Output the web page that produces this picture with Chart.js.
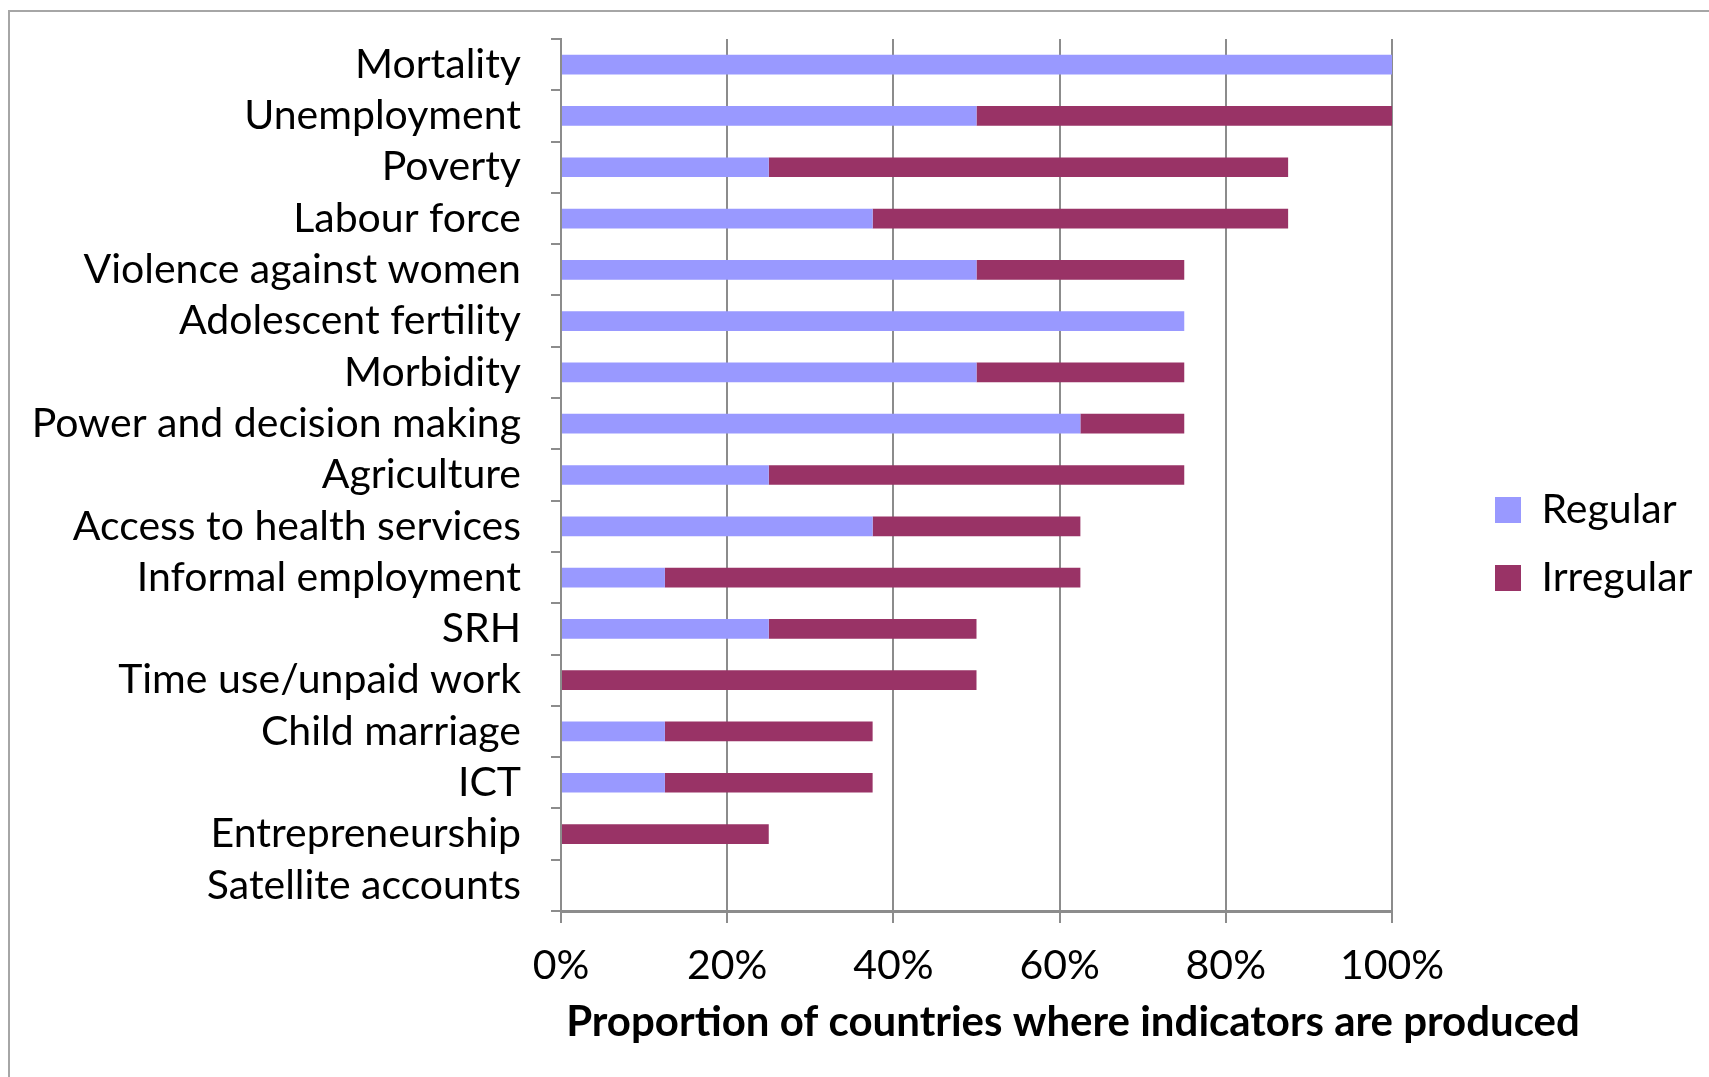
<!DOCTYPE html>
<html lang="en">
<head>
  <meta charset="UTF-8" />
  <title>Indicators produced</title>
  <script src="https://cdn.jsdelivr.net/npm/chart.js"></script>
  <style>
    html, body { margin: 0; padding: 0; background: #fff; }
    #wrap { position: relative; width: 1709px; height: 1077px; overflow: hidden; }
    #frame { position: absolute; left: 8px; top: 10px; width: 1800px; height: 1200px; border: 2px solid #a6a6a6; box-sizing: border-box; }
    canvas { position: absolute; left: 0; top: 0; }
  </style>
</head>
<body>

<div id="wrap">
  <div id="frame"></div>
  <canvas id="grafIndicadores" width="1709" height="1077"></canvas>
</div>

<script>
  const categorias = [
    'Mortality', 'Unemployment', 'Poverty', 'Labour force', 'Violence against women',
    'Adolescent fertility', 'Morbidity', 'Power and decision making', 'Agriculture',
    'Access to health services', 'Informal employment', 'SRH', 'Time use/unpaid work',
    'Child marriage', 'ICT', 'Entrepreneurship', 'Satellite accounts'
  ];
  const regular   = [100, 50, 25, 37.5, 50, 75, 50, 62.5, 25, 37.5, 12.5, 25, 0, 12.5, 12.5, 0, 0];
  const irregular = [0, 50, 62.5, 50, 25, 0, 25, 12.5, 50, 25, 50, 25, 50, 25, 25, 25, 0];
  const xTicks = [0, 20, 40, 60, 80, 100];
  const tituloX = 'Proportion of countries where indicators are produced';

  const fonte = 'Lato, "Open Sans", sans-serif';
  const cinza = '#8c8c8c';

  // legenda mais larga, deslocada para a direita (como no Excel)
  const ajusteLegenda = {
    id: 'ajusteLegenda',
    beforeInit(chart) {
      const fitOrig = chart.legend.fit;
      chart.legend.fit = function () {
        fitOrig.call(this);
        this.width = 317;
      };
    },
    afterLayout(chart) {
      const lg = chart.legend;
      lg.left += 76; lg.right += 76;
      lg.top -= 14; lg.bottom -= 14;
    }
  };

  // título do eixo X, centrado como no original
  const tituloEixo = {
    id: 'tituloEixo',
    afterDraw(chart) {
      const ctx = chart.ctx;
      const area = chart.chartArea;
      ctx.save();
      ctx.font = 'bold 42px ' + fonte;
      ctx.fillStyle = '#000';
      ctx.textAlign = 'center';
      ctx.textBaseline = 'middle';
      ctx.fillText(tituloX, area.left + 512, area.bottom + 111);
      ctx.restore();
    }
  };

  new Chart(document.getElementById('grafIndicadores').getContext('2d'), {
    type: 'bar',
    data: {
      labels: categorias,
      datasets: [
        { label: 'Regular', data: regular, backgroundColor: '#9999FF', borderWidth: 0,
          categoryPercentage: 0.8, barPercentage: 0.48 },
        { label: 'Irregular', data: irregular, backgroundColor: '#993366', borderWidth: 0,
          categoryPercentage: 0.8, barPercentage: 0.48 }
      ]
    },
    options: {
      indexAxis: 'y',
      responsive: false,
      animation: false,
      layout: { padding: { top: 39, left: 0, right: 0, bottom: 0 } },
      plugins: {
        legend: {
          position: 'right',
          align: 'center',
          labels: { font: { family: fonte, size: 41 }, color: '#000', boxWidth: 26, boxHeight: 26, padding: 27 }
        },
        tooltip: { enabled: false }
      },
      scales: {
        x: {
          stacked: true,
          min: 0, max: 100,
          afterBuildTicks(s) { s.ticks = xTicks.map(v => ({ value: v })); },
          afterFit(s) { s.height = 166; s.paddingLeft = 0; s.paddingRight = 0; },
          ticks: { callback: v => v + '%', font: { family: fonte, size: 41 }, color: '#000', padding: 18 },
          grid: { color: cinza, lineWidth: 2, tickLength: 12 },
          border: { color: cinza, width: 3 }
        },
        y: {
          stacked: true,
          afterFit(s) { s.width = 561; s.paddingTop = 0; s.paddingBottom = 0; },
          ticks: { autoSkip: false, font: { family: fonte, size: 41 }, color: '#000', padding: 30 },
          grid: { offset: true, drawOnChartArea: false, color: cinza, lineWidth: 2, tickLength: 10 },
          border: { color: cinza, width: 2 }
        }
      }
    },
    plugins: [ajusteLegenda, tituloEixo]
  });
</script>

</body>
</html>
